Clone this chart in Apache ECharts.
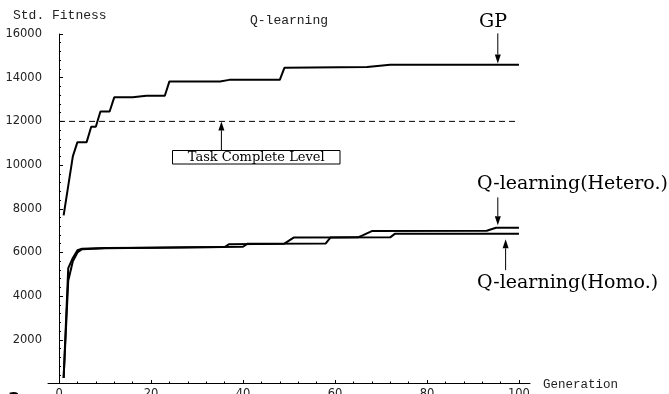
<!DOCTYPE html>
<html><head><meta charset="utf-8">
<script src="https://cdn.jsdelivr.net/npm/echarts@6/dist/echarts.min.js"></script>
<style>html,body{margin:0;padding:0;background:#fff}#c{width:669px;height:394px}</style>
</head><body><div id="c"></div>
<script>
// ---- data: [generation, std. fitness] ----
const gpData = [[1,7700],[2,9050],[3,10400],[4,11050],[6,11050],[7,11750],[8,11750],[9,12450],[11,12450],[12,13100],[16,13100],[19,13170],[23,13170],[24,13830],[35,13830],[37,13900],[48,13900],[49,14450],[55,14470],[67,14490],[72,14590],[100,14590]];
const qHetero = [[1,250],[2,5280],[3,5750],[4,6100],[5,6170],[10,6200],[20,6220],[30,6240],[40,6260],[41,6400],[58,6410],[59,6680],[65,6690],[66,6780],[68,6980],[93,6990],[95,7130],[100,7130]];
const qHomo = [[1,250],[2,4700],[3,5600],[4,6000],[5,6150],[10,6190],[20,6220],[30,6240],[36,6250],[37,6380],[49,6400],[51,6680],[72,6690],[73,6850],[100,6850]];
const taskLevel = [[0,12000],[100,12000]];
const xTicks = [0,20,40,60,80,100];
const xMinorTicks = [4,8,12,16,24,28,32,36,44,48,52,56,64,68,72,76,84,88,92,96];
const yMinorTicks = [400,800,1200,1600,2400,2800,3200,3600,4400,4800,5200,5600,6400,6800,7200,7600,8400,8800,9200,9600,10400,10800,11200,11600,12400,12800,13200,13600,14400,14800,15200,15600];
// annotation arrows: [from, to(tip)] in data coords
const arrowGP = [[95.4,16030],[95.4,14650]];
const arrowTask = [[35.3,10670],[35.3,12000]];
const arrowHetero = [[95.4,8520],[95.4,7250]];
const arrowHomo = [[97.1,5190],[97.1,6600]];

const chart = echarts.init(document.getElementById('c'), null, {renderer:'canvas'});
const sansF = 'DejaVu Sans';
const monoF = 'Liberation Mono';
const serifF = 'DejaVu Serif';
const lineS = (name, data) => ({name, type:'line', data, symbol:'none', lineStyle:{color:'#000', width:2}, itemStyle:{color:'#000'}, animation:false, z:3});

chart.setOption({
  animation:false,
  grid:{left:48, right:139, top:34, bottom:10.5, containLabel:false, outerBoundsMode:'none'},
  xAxis:[{
    type:'value', min:-2.4, max:102.4, position:'bottom',
    axisLine:{lineStyle:{color:'#000', width:1}},
    axisTick:{inside:true, length:3.5, lineStyle:{color:'#000'}, customValues:xTicks},
    axisLabel:{customValues:xTicks, margin:5, fontFamily:sansF, fontSize:11.5, color:'#222'},
    splitLine:{show:false}
  },{
    type:'value', min:-2.4, max:102.4, position:'bottom',
    axisLine:{show:false},
    axisTick:{inside:true, length:2, lineStyle:{color:'#000'}, customValues:xMinorTicks},
    axisLabel:{show:false},
    splitLine:{show:false}
  }],
  yAxis:[{
    type:'value', min:0, max:16000, interval:2000, position:'left',
    axisLine:{show:true, onZero:true, lineStyle:{color:'#000', width:1}},
    axisTick:{show:true, inside:true, length:4, lineStyle:{color:'#000'}},
    axisLabel:{showMinLabel:false, margin:6, fontFamily:sansF, fontSize:11.5, color:'#222', formatter:v=>String(v)},
    splitLine:{show:false}
  },{
    type:'value', min:0, max:16000, position:'left',
    axisLine:{show:false, onZero:true},
    axisTick:{show:true, inside:true, length:2, lineStyle:{color:'#000'}, customValues:yMinorTicks},
    axisLabel:{show:false},
    splitLine:{show:false}
  }],
  series:[
    lineS('GP', gpData),
    lineS('Q-learning(Hetero.)', qHetero),
    lineS('Q-learning(Homo.)', qHomo),
    {name:'Task Complete Level', type:'line', data:taskLevel, symbol:'none', animation:false,
     lineStyle:{color:'#000', width:1, type:[6,4]}, z:2}
  ]
});

function px(p){ return chart.convertToPixel({xAxisIndex:0, yAxisIndex:0}, p); }
function arrow(a){
  const s = px(a[0]), t = px(a[1]);
  const dir = t[1] > s[1] ? 1 : -1;
  const h = 9, w = 3;
  return [
    {type:'line', shape:{x1:s[0], y1:s[1], x2:t[0], y2:t[1]-dir*h}, style:{stroke:'#000', lineWidth:1}, z:10},
    {type:'polygon', shape:{points:[[t[0],t[1]],[t[0]-w,t[1]-dir*h],[t[0]+w,t[1]-dir*h]]}, style:{fill:'#000'}, z:10}
  ];
}
const g = [].concat(
  arrow(arrowGP), arrow(arrowTask), arrow(arrowHetero), arrow(arrowHomo),
  [
    {type:'text', x:13, y:15.5, style:{text:'Std. Fitness', font:'13px "'+monoF+'"', fill:'#222', textVerticalAlign:'middle'}},
    {type:'text', x:289, y:20.5, style:{text:'Q-learning', font:'13px "'+monoF+'"', fill:'#222', textAlign:'center', textVerticalAlign:'middle'}},
    {type:'text', x:543, y:385, style:{text:'Generation', font:'12.5px "'+monoF+'"', fill:'#222', textVerticalAlign:'middle'}},
    {type:'text', x:493, y:22.5, style:{text:'GP', font:'19px "'+serifF+'"', fill:'#000', textAlign:'center', textVerticalAlign:'middle'}},
    {type:'text', x:477, y:184, style:{text:'Q-learning(Hetero.)', font:'19px "'+serifF+'"', fill:'#000', textVerticalAlign:'middle'}},
    {type:'text', x:477, y:283.5, style:{text:'Q-learning(Homo.)', font:'19px "'+serifF+'"', fill:'#000', textVerticalAlign:'middle'}},
    {type:'rect', shape:{x:172.5, y:150.5, width:167.5, height:13.5}, style:{fill:'#fff', stroke:'#000', lineWidth:1}, z:9},
    {type:'text', x:256.2, y:157.5, style:{text:'Task Complete Level', font:'13px "'+serifF+'"', fill:'#000', textAlign:'center', textVerticalAlign:'middle'}, z:11},
    {type:'text', x:14, y:388, style:{text:'a', font:'bold 18px "'+sansF+'"', fill:'#000', textAlign:'center', textVerticalAlign:'top'}, z:12}
  ]
);
chart.setOption({graphic:g});
</script></body></html>
